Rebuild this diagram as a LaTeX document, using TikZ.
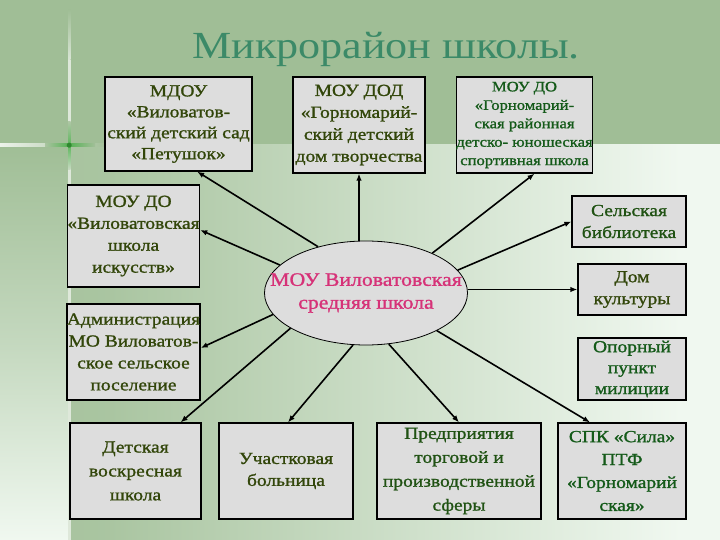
\documentclass[tikz,border=0pt]{standalone}
\usepackage{fontspec}
\setmainfont{Liberation Serif}[FakeStretch=1.15]
\newfontfamily\boxfam{Liberation Serif}[FakeStretch=1.15, FakeBold=1.2]
\usetikzlibrary{arrows.meta,calc,shapes.geometric}
\definecolor{sage}{RGB}{160,190,150}
\definecolor{pale}{RGB}{240,248,240}
\definecolor{boxfill}{RGB}{221,221,221}
\definecolor{olive}{RGB}{50,70,10}
\definecolor{dgreen}{RGB}{20,90,25}
\definecolor{pinkc}{RGB}{214,50,120}
\definecolor{titlec}{RGB}{60,138,104}
\definecolor{glow}{RGB}{60,170,60}
\pgfdeclarehorizontalshading{bgh}{100bp}{color(0bp)=(sage); color(28bp)=(sage!88!pale); color(72bp)=(pale); color(100bp)=(pale)}
\newcommand\boxfont{\boxfam\fontsize{17}{22}\selectfont}
\newcommand\smallboxfont{\boxfam\fontsize{14.5}{18.5}\selectfont}
\tikzset{
  box/.style={draw=black, line width=1.2bp, fill=boxfill, align=center, inner sep=0pt, font=\boxfont, text=olive},
  arr/.style={-{Latex[length=7bp,width=5.5bp]}, line width=1.6bp, black},
}
\begin{document}
\begin{tikzpicture}[x=1bp,y=-1bp]
\useasboundingbox (0,0) rectangle (720,540);
% background
\fill[sage] (0,0) rectangle (720,540);
\shade[shading=bgh] (69,145) rectangle (720,540);
\shade[top color=sage, bottom color=pale, middle color=sage!55!pale] (0,145) rectangle (69,540);
\shade[left color=sage!20!white, right color=sage] (0,144) rectangle (110,146.5);
\shade[top color=sage, bottom color=sage!40!white] (68,10) rectangle (70.5,60);
\fill[sage!35!white] (68,60) rectangle (70.5,540);
\shade[left color=sage, right color=glow, opacity=0.8] (45,144) rectangle (69,146.5);
\shade[left color=glow, right color=sage, opacity=0.8] (69,144) rectangle (95,146.5);
\shade[top color=sage, bottom color=glow, opacity=0.8] (68,122) rectangle (70.5,145);
\shade[top color=glow, bottom color=sage!60!white, opacity=0.8] (68,145) rectangle (70.5,170);
\fill[glow!80!black] (69.2,145.2) circle (2.5);
% title
\node[font=\fontsize{38.5}{44}\selectfont, text=titlec] (title) at (386,49) {Микрорайон школы.};
% boxes
\node[box, font=\boxfam\fontsize{17}{21}\selectfont, minimum width=147bp, minimum height=94bp] (mdou) at (178.5,124) {МДОУ\\«Виловатов-\\ский детский сад\\«Петушок»};
\node[box, minimum width=132bp, minimum height=96bp] (dod) at (359,125) {МОУ ДОД\\«Горномарий-\\ский детский\\дом творчества};
\node[box, text=dgreen, font=\smallboxfont, minimum width=135bp, minimum height=96bp] (sport) at (524.5,125) {МОУ ДО\\«Горномарий-\\ская районная\\детско- юношеская\\спортивная школа};
\node[box, minimum width=127bp, minimum height=102bp] (isk) at (133.5,236) {МОУ ДО\\«Виловатовская\\школа\\искусств»};
\node[box, minimum width=127bp, minimum height=96bp] (adm) at (133.5,352) {Администрация\\МО Виловатов-\\ское сельское\\поселение};
\node[box, font=\boxfam\fontsize{17}{24}\selectfont, minimum width=131bp, minimum height=96bp] (det) at (135.5,471) {Детская\\воскресная\\школа};
\node[box, minimum width=134bp, minimum height=96bp] (uch) at (286,471) {Участковая\\больница};
\node[box, text=dgreen!60!olive, font=\boxfam\fontsize{17}{24}\selectfont, minimum width=164bp, minimum height=96bp] (pred) at (459,471) {Предприятия\\торговой и\\производственной\\сферы};
\node[box, text=dgreen, font=\boxfam\fontsize{17}{23}\selectfont, minimum width=128bp, minimum height=96bp] (spk) at (622,471) {СПК «Сила»\\ПТФ\\«Горномарий\\ская»};
\node[box, text=dgreen!60!olive, minimum width=114bp, minimum height=51bp] (bib) at (629,221.5) {Сельская\\библиотека};
\node[box, minimum width=108bp, minimum height=51bp] (dom) at (632,289.5) {Дом\\культуры};
\node[box, text=dgreen, font=\boxfam\fontsize{17}{21}\selectfont, minimum width=108bp, minimum height=62bp] (opor) at (632,369) {Опорный\\пункт\\милиции};
% central ellipse
\node[ellipse, draw=black, line width=0.8bp, fill=boxfill, minimum width=203bp, minimum height=104bp, inner sep=0pt] (ell) at (366,293) {};
\node[align=center, text=pinkc, font=\boxfam\fontsize{19}{23}\selectfont, inner sep=0pt] (elltext) at (ell.center) {МОУ Виловатовская\\средняя школа};
% connectors
\draw[arr] (ell.136) -- ($(mdou.south west)!0.626!(mdou.south east)$);
\draw[arr] (ell.north -| dod.south) -- (dod.south);
\draw[arr] (ell.31) -- ($(sport.south)+(10,0)$);
\draw[arr] (ell.162) -- ($(isk.east)+(0,-6)$);
\draw[arr] (ell.14) -- (bib.west);
\draw[arr] (dom.west -| ell.east) -- (dom.west);
\draw[arr] (ell.193) -- ($(adm.east)+(0,-4)$);
\draw[arr] (ell.205) -- ($(det.north east)+(-21,0)$);
\draw[arr] (ell.256) -- ($(uch.north)+(2,0)$);
\draw[arr] (ell.294) -- (pred.north);
\draw[arr] (ell.332) -- ($(spk.north)+(-32,0)$);
\end{tikzpicture}
\end{document}
